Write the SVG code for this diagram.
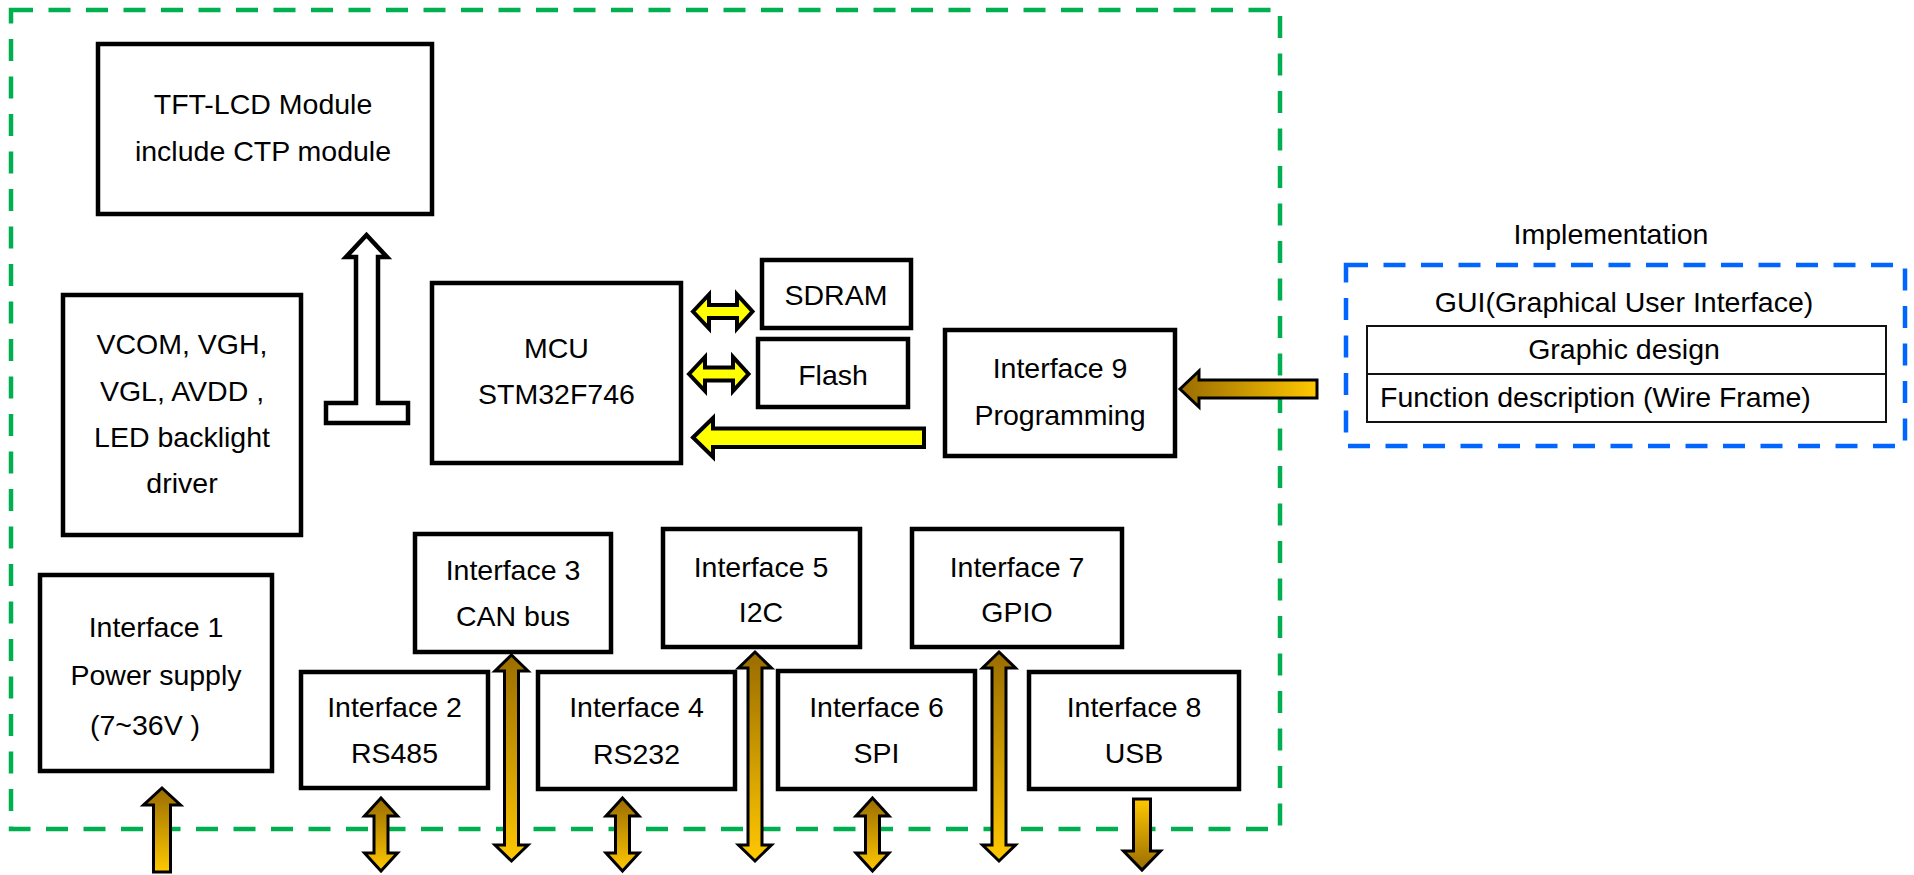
<svg xmlns="http://www.w3.org/2000/svg" width="1914" height="875" viewBox="0 0 1914 875">
<defs>
<linearGradient id="gV" x1="0" y1="0" x2="0" y2="1">
<stop offset="0" stop-color="#9A6C00"/><stop offset="1" stop-color="#FFC800"/>
</linearGradient>
<linearGradient id="gVr" x1="0" y1="0" x2="0" y2="1">
<stop offset="0" stop-color="#FFC800"/><stop offset="1" stop-color="#9A6C00"/>
</linearGradient>
<linearGradient id="gH" x1="0" y1="0" x2="1" y2="0">
<stop offset="0" stop-color="#9A6C00"/><stop offset="1" stop-color="#FFC800"/>
</linearGradient>
</defs>
<style>
.box{fill:#fff;stroke:#000;stroke-width:4.5}
.t{font-family:"Liberation Sans",Arial,sans-serif;font-size:28.5px;fill:#000;text-anchor:middle}
.ts{font-family:"Liberation Sans",Arial,sans-serif;font-size:28.5px;fill:#000;text-anchor:start}
.br{stroke:#000;stroke-width:3;stroke-linejoin:miter}
.ye{fill:#FFFF00;stroke:#000;stroke-width:4;stroke-linejoin:miter}
</style>
<rect width="1914" height="875" fill="#fff"/>

<g id="frame-main">
<rect x="11" y="10" width="1269" height="819" fill="none" stroke="#00B050" stroke-width="4.5" stroke-dasharray="22 15.5"/>
</g>

<g id="node-tft">
<rect class="box" x="98" y="44" width="334" height="170"/>
<text class="t" x="263" y="114">TFT-LCD Module</text>
<text class="t" x="263" y="161">include CTP module</text>
</g>

<g id="node-vcom">
<rect class="box" x="63" y="295" width="238" height="240"/>
<text class="t" x="182" y="354">VCOM, VGH,</text>
<text class="t" x="182" y="401">VGL, AVDD ,</text>
<text class="t" x="182" y="447">LED backlight</text>
<text class="t" x="182" y="493">driver</text>
</g>

<g id="node-mcu">
<rect class="box" x="432" y="283" width="249" height="180"/>
<text class="t" x="556.5" y="358">MCU</text>
<text class="t" x="556.5" y="404">STM32F746</text>
</g>

<g id="node-sdram">
<rect class="box" x="762" y="260" width="149" height="68"/>
<text class="t" x="836" y="305">SDRAM</text>
</g>

<g id="node-flash">
<rect class="box" x="758" y="339" width="150" height="68"/>
<text class="t" x="833" y="385">Flash</text>
</g>

<g id="node-if9">
<rect class="box" x="945" y="330" width="230" height="126"/>
<text class="t" x="1060" y="378">Interface 9</text>
<text class="t" x="1060" y="425">Programming</text>
</g>

<g id="node-if1">
<rect class="box" x="40" y="575" width="232" height="196"/>
<text class="t" x="156" y="637">Interface 1</text>
<text class="t" x="156" y="685">Power supply</text>
<text class="ts" x="90" y="735">(7~36V )</text>
</g>

<g id="node-if3">
<rect class="box" x="415" y="534" width="196" height="118"/>
<text class="t" x="513" y="580">Interface 3</text>
<text class="t" x="513" y="626">CAN bus</text>
</g>

<g id="node-if2">
<rect class="box" x="301" y="672" width="187" height="116"/>
<text class="t" x="394.5" y="717">Interface 2</text>
<text class="t" x="394.5" y="763">RS485</text>
</g>

<g id="node-if4">
<rect class="box" x="538" y="672" width="197" height="117"/>
<text class="t" x="636.5" y="717">Interface 4</text>
<text class="t" x="636.5" y="764">RS232</text>
</g>

<g id="node-if5">
<rect class="box" x="663" y="529" width="197" height="118"/>
<text class="t" x="761" y="577">Interface 5</text>
<text class="t" x="761" y="622">I2C</text>
</g>

<g id="node-if6">
<rect class="box" x="778" y="671" width="197" height="118"/>
<text class="t" x="876.5" y="717">Interface 6</text>
<text class="t" x="876.5" y="763">SPI</text>
</g>

<g id="node-if7">
<rect class="box" x="912" y="529" width="210" height="118"/>
<text class="t" x="1017" y="577">Interface 7</text>
<text class="t" x="1017" y="622">GPIO</text>
</g>

<g id="node-if8">
<rect class="box" x="1029" y="672" width="210" height="117"/>
<text class="t" x="1134" y="717">Interface 8</text>
<text class="t" x="1134" y="763">USB</text>
</g>

<g id="node-implementation">
<text class="t" x="1611" y="244">Implementation</text>
<rect x="1346" y="265" width="559" height="181" fill="none" stroke="#0066FF" stroke-width="4.5" stroke-dasharray="22 15.5"/>
<text class="t" x="1624" y="312">GUI(Graphical User Interface)</text>
<rect x="1367" y="326" width="519" height="96" fill="#fff" stroke="#111" stroke-width="2"/>
<line x1="1367" y1="374" x2="1886" y2="374" stroke="#111" stroke-width="2"/>
<text class="t" x="1624" y="359">Graphic design</text>
<text class="ts" x="1380" y="407">Function description (Wire Frame)</text>
</g>

<g id="connectors">
<polygon points="366.5,235 387,257 378,257 378,403 408,403 408,423 326,423 326,403 356,403 356,257 346,257" fill="#fff" stroke="#000" stroke-width="4.5" stroke-linejoin="miter"/>
<polygon class="ye" points="693,311.5 709,294.5 709,305 737,305 737,294.5 752.5,311.5 737,328.5 737,318 709,318 709,328.5"/>
<polygon class="ye" points="689,374 705,357 705,367.5 733,367.5 733,357 748.5,374 733,391 733,380.5 705,380.5 705,391"/>
<polygon class="ye" points="693,437.5 713,418 713,428.5 924,428.5 924,447 713,447 713,457"/>
<polygon class="br" fill="url(#gH)" points="1180,389 1199,371 1199,380 1317,380 1317,398 1199,398 1199,407"/>
<polygon class="br" fill="url(#gV)" points="162,788 180.5,805 170.5,805 170.5,872 153.5,872 153.5,805 143.5,805"/>
<polygon class="br" fill="url(#gV)" points="381,798 397.5,816 388,816 388,853 397.5,853 381,871 364.5,853 374,853 374,816 364.5,816"/>
<polygon class="br" fill="url(#gV)" points="511.5,655 528,671 518.5,671 518.5,845 528,845 511.5,861 495,845 504.5,845 504.5,671 495,671"/>
<polygon class="br" fill="url(#gV)" points="622.5,798 639,816 629.5,816 629.5,853 639,853 622.5,871 606,853 615.5,853 615.5,816 606,816"/>
<polygon class="br" fill="url(#gV)" points="755,652 771.5,668 762,668 762,845 771.5,845 755,861 738.5,845 748,845 748,668 738.5,668"/>
<polygon class="br" fill="url(#gV)" points="872.5,798 889,816 879.5,816 879.5,853 889,853 872.5,871 856,853 865.5,853 865.5,816 856,816"/>
<polygon class="br" fill="url(#gV)" points="999,652 1015.5,668 1006,668 1006,845 1015.5,845 999,861 982.5,845 992,845 992,668 982.5,668"/>
<polygon class="br" fill="url(#gVr)" points="1133.5,799 1150.5,799 1150.5,851 1160.5,851 1142,870 1123.5,851 1133.5,851"/>
</g>
</svg>
